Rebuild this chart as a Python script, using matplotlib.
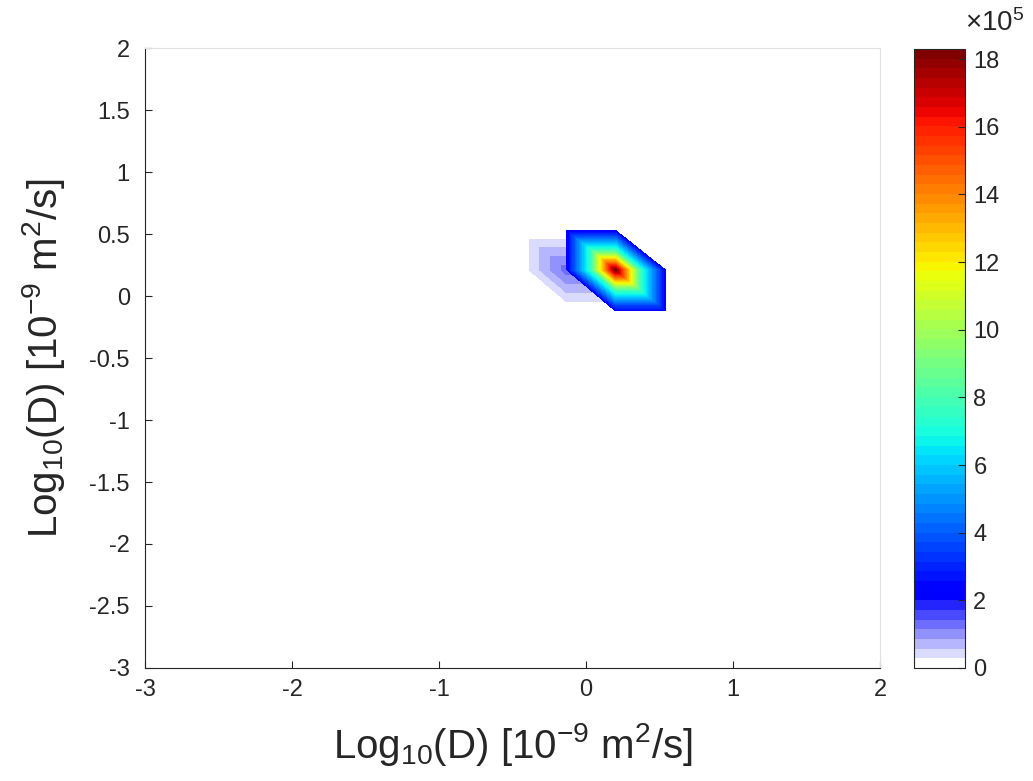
import numpy as np
import matplotlib
matplotlib.use('Agg')
import matplotlib.pyplot as plt
import matplotlib.tri as mtri
from matplotlib.colors import ListedColormap

plt.rcParams['font.family'] = ['Liberation Sans', 'DejaVu Sans']
plt.rcParams['mathtext.fontset'] = 'custom'
plt.rcParams['mathtext.rm'] = 'Liberation Sans'
plt.rcParams['mathtext.it'] = 'Liberation Sans:italic'
plt.rcParams['mathtext.default'] = 'regular'

# grid of log10(D) values (both dimensions) around the peak
logD_x = [-0.46, -0.295, -0.13, 0.035, 0.20, 0.37, 0.54]
logD_y = [-0.12, 0.045, 0.21, 0.37, 0.53]

# main component, amplitude in units of 1e5, rows follow logD_y; nan = no data
nan = np.nan
main_amp = [[nan, nan, nan, nan, 2.1, 2.1, 2.1],
            [nan, nan, nan, 2.1, 7.6, 7.6, 2.1],
            [nan, nan, 2.1, 7.6, 18.3, 7.6, 2.1],
            [nan, nan, 2.1, 7.6, 7.6, 2.1, nan],
            [nan, nan, 2.1, 2.1, 2.1, nan, nan]]

# weak shoulder component (units of 1e5)
weak_amp = [[nan, nan, 0.0, 0.0, 0.0, nan, nan],
            [nan, 0.0, 0.65, 0.65, 0.0, nan, nan],
            [0.0, 0.65, 1.3, 0.65, 0.0, nan, nan],
            [0.0, 0.65, 0.65, 0.0, nan, nan, nan],
            [0.0, 0.0, 0.0, nan, nan, nan, nan]]

cbar_ticks = [0, 2, 4, 6, 8, 10, 12, 14, 16, 18]
x_ticks = [-3, -2, -1, 0, 1, 2]
y_ticks = [-3, -2.5, -2, -1.5, -1, -0.5, 0, 0.5, 1, 1.5, 2]

# jet(64) with the lowest 7 entries faded from white to blue
jet = plt.get_cmap('jet', 64)(np.arange(64))
for k in range(7):
    f = k / 7
    jet[k] = [1 - f, 1 - f, 1, 1]
cmap = ListedColormap(jet)


def grid_tri(xv, yv, zv):
    X, Y = np.meshgrid(xv, yv)
    Z = np.array(zv, dtype=float)
    nx = len(xv)
    tris = []
    for j in range(len(yv) - 1):
        for i in range(nx - 1):
            bl = j * nx + i
            br = bl + 1
            tl = bl + nx
            tr = tl + 1
            tris.append([bl, br, tl])
            tris.append([br, tr, tl])
    tris = np.array(tris)
    zf = Z.ravel()
    t = mtri.Triangulation(X.ravel(), Y.ravel(), tris)
    t.set_mask(np.isnan(zf[tris]).any(axis=1))
    return t, np.nan_to_num(zf)


zmax = np.nanmax(np.array(main_amp))
levels = np.linspace(0, zmax, 65)

fig = plt.figure(figsize=(10.33, 7.81), dpi=100)
ax = fig.add_axes([0.1404, 0.1447, 0.7115, 0.7938])
cax = fig.add_axes([0.8848, 0.1447, 0.0494, 0.7926])

t1, z1 = grid_tri(logD_x, logD_y, weak_amp)
ax.tricontourf(t1, z1, levels=levels, cmap=cmap, vmin=0, vmax=zmax, antialiased=False)
t2, z2 = grid_tri(logD_x, logD_y, main_amp)
cs = ax.tricontourf(t2, z2, levels=levels, cmap=cmap, vmin=0, vmax=zmax, antialiased=False)

ax.set_xlim(-3, 2)
ax.set_ylim(-3, 2)
ax.set_xticks(x_ticks)
ax.set_xticklabels(['%g' % v for v in x_ticks])
ax.set_yticks(y_ticks)
ax.set_yticklabels(['%g' % v for v in y_ticks])
dark = (0.15, 0.15, 0.15)
for s in ['left', 'bottom']:
    ax.spines[s].set_color(dark)
for s in ['top', 'right']:
    ax.spines[s].set_color((0.88, 0.88, 0.88))
ax.tick_params(direction='in', length=5, width=0.8, colors=dark,
               labelsize=17, labelcolor=dark)
ax.tick_params(axis='y', pad=11)
ax.tick_params(axis='x', pad=8)

lab = 'Log$_{10}$(D) [10$^{-9}$ m$^2$/s]'
ax.set_xlabel(lab, fontsize=29, color=dark, labelpad=14)
ax.set_ylabel(lab, fontsize=29, color=dark, labelpad=16)

cb = fig.colorbar(cs, cax=cax)
cb.set_ticks(cbar_ticks)
cb.set_ticklabels(['%d' % v for v in cbar_ticks])
cb.outline.set_edgecolor(dark)
cb.outline.set_linewidth(0.8)
cax.tick_params(direction='in', length=5, width=0.8, colors=dark, labelsize=17, pad=6)
fig.text(0.934, 0.952, r'$\times$10$^5$', fontsize=20, color=dark,
         ha='left', va='bottom')

fig.savefig('out.png', dpi=100)
